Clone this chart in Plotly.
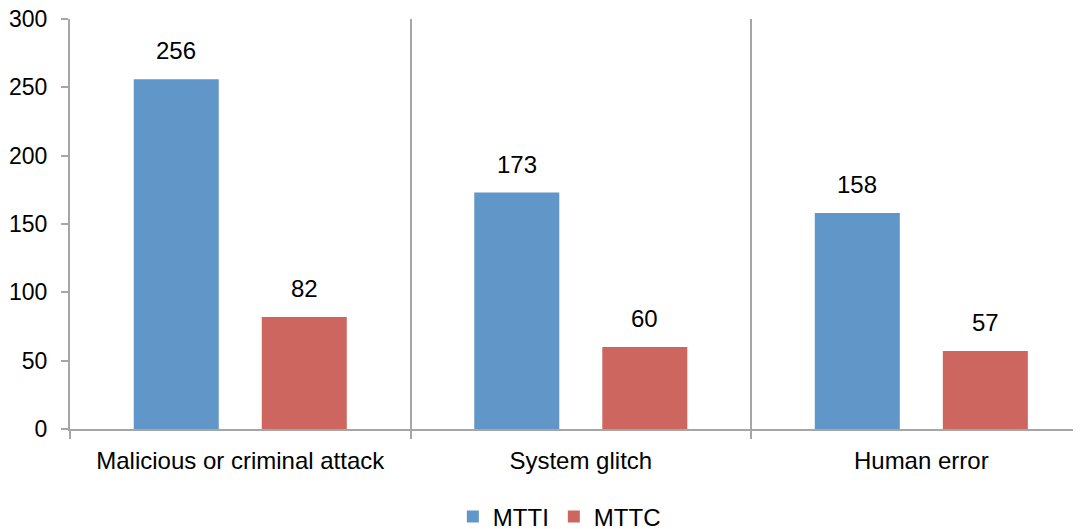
import plotly.graph_objects as go

categories = ["Malicious or criminal attack", "System glitch", "Human error"]
mtti = [256, 173, 158]
mttc = [82, 60, 57]
series_names = ["MTTI", "MTTC"]
y_ticks = [0, 50, 100, 150, 200, 250, 300]

# the page body has an 8px margin, so the figure starts at (8, 8) in the window
W, H = 1073, 521
ML, MR, MT, MB = 62, 1, 11, 100
X_RANGE = [-0.5, 2.466]   # plot area runs a little past the right edge, as in the reference
BARGAP = 0.248
GROUPGAP = 0.336
FONT = "Liberation Sans, Arial, sans-serif"
GRAY = "#a6a6a6"
BLUE = "#6196C9"
RED = "#CD665F"

fig = go.Figure()
fig.add_trace(go.Bar(x=categories, y=mtti, name=series_names[0], marker=dict(color=BLUE, line=dict(width=0))))
fig.add_trace(go.Bar(x=categories, y=mttc, name=series_names[1], marker=dict(color=RED, line=dict(width=0))))

cat_px = (W - ML - MR) / (X_RANGE[1] - X_RANGE[0])
slot_px = cat_px * (1 - BARGAP) / 2
for vals, sign in ((mtti, -1), (mttc, 1)):
    for c, v in zip(categories, vals):
        fig.add_annotation(x=c, y=v, text=str(v), showarrow=False, xref="x", yref="y",
                           xshift=sign * slot_px / 2, yshift=13, yanchor="bottom",
                           font=dict(family=FONT, size=24, color="#000000"))

fig.update_layout(
    width=W, height=H,
    margin=dict(l=ML, r=MR, t=MT, b=MB, autoexpand=False),
    paper_bgcolor="white", plot_bgcolor="white",
    barmode="group", bargap=BARGAP, bargroupgap=GROUPGAP,
    font=dict(family=FONT, size=24, color="#000000"),
    showlegend=True,
    legend=dict(orientation="h", x=0.4845, xanchor="center", y=-0.2146, yanchor="middle",
                font=dict(family=FONT, size=24, color="#000000"), itemwidth=30,
                bgcolor="rgba(0,0,0,0)"),
)
fig.update_xaxes(type="category", range=X_RANGE, showline=True, linecolor=GRAY, linewidth=2,
                 showgrid=True, gridcolor=GRAY, gridwidth=1.5, tickson="boundaries",
                 ticks="outside", ticklen=8, tickcolor=GRAY, tickwidth=1.5, automargin=False,
                 ticklabelstandoff=9, ticklabeloverflow="allow",
                 tickfont=dict(family=FONT, size=24, color="#000000"), zeroline=False)
fig.update_yaxes(range=[0, 300], tickvals=y_ticks, showline=True, linecolor=GRAY, linewidth=2,
                 showgrid=False, ticks="outside", ticklen=7, tickcolor=GRAY, tickwidth=1.5,
                 automargin=False, ticklabelstandoff=9, ticklabeloverflow="allow",
                 tickfont=dict(family=FONT, size=23, color="#000000"), zeroline=False)

fig.write_html("out.html")
